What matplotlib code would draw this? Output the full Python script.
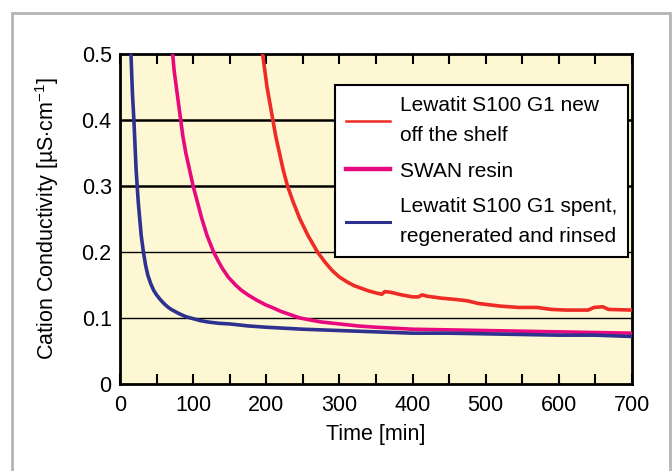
import numpy as np
import matplotlib
matplotlib.use('Agg')
import matplotlib.pyplot as plt
from matplotlib.patches import Rectangle

fs = 15.5
plt.rcParams['font.family'] = ['Liberation Sans', 'DejaVu Sans']
plt.rcParams['mathtext.fontset'] = 'custom'
plt.rcParams['mathtext.rm'] = 'Liberation Sans'
plt.rcParams['mathtext.it'] = 'Liberation Sans'

# data
t_new = [195, 198, 201, 205, 209, 213, 218, 223, 229, 237, 246, 257, 270, 280, 290, 300, 310, 320,
         330, 340, 350, 358, 362, 370, 385, 400, 408, 413, 420, 440, 460, 475, 490, 505, 520,
         545, 570, 590, 610, 640, 648, 660, 668, 700]
c_new = [0.5, 0.475, 0.45, 0.425, 0.4, 0.375, 0.35, 0.325, 0.3, 0.275, 0.25, 0.225, 0.2, 0.185, 0.172, 0.162, 0.155, 0.149,
         0.145, 0.141, 0.138, 0.136, 0.14, 0.139, 0.135, 0.132, 0.132, 0.135, 0.133, 0.13, 0.128, 0.126, 0.122, 0.12, 0.118,
         0.116, 0.116, 0.113, 0.112, 0.112, 0.116, 0.117, 0.113, 0.112]

t_swan = [72, 74, 77, 80, 83, 86, 90, 95, 100, 106, 112, 119, 128, 134, 140, 148, 158, 166, 175,
          187, 199, 210, 220, 233, 246, 260, 275, 300, 325, 350, 400, 450, 500, 550, 600, 650, 700]
c_swan = [0.5, 0.475, 0.45, 0.425, 0.4, 0.375, 0.35, 0.325, 0.3, 0.275, 0.25, 0.225, 0.2, 0.187, 0.175, 0.162, 0.15, 0.142, 0.135,
          0.127, 0.12, 0.115, 0.11, 0.105, 0.1, 0.097, 0.094, 0.091, 0.088, 0.086, 0.083, 0.082, 0.081, 0.08, 0.079, 0.078, 0.077]

t_spent = [15, 16, 17, 18, 19, 20, 21, 22, 23.5, 25, 27, 29, 32, 35, 38, 42, 46, 50, 55, 60, 65, 70,
           80, 90, 100, 110, 120, 135, 150, 175, 200, 250, 300, 350, 400, 450, 500, 550, 600, 650, 700]
c_spent = [0.5, 0.47, 0.44, 0.42, 0.4, 0.375, 0.35, 0.325, 0.3, 0.275, 0.25, 0.225, 0.2, 0.18, 0.165, 0.152, 0.142, 0.135, 0.128, 0.122, 0.117, 0.113,
           0.107, 0.102, 0.099, 0.096, 0.094, 0.092, 0.091, 0.088, 0.086, 0.083, 0.081, 0.079, 0.077, 0.077, 0.076, 0.075, 0.074, 0.074, 0.072]

labels = ['Lewatit S100 G1 new\noff the shelf', 'SWAN resin',
          'Lewatit S100 G1 spent,\nregenerated and rinsed']
colors = ['#ee2b24', '#e8097f', '#2e3190']

fig = plt.figure(figsize=(6.72, 4.71), dpi=100)
fig.patch.set_facecolor('white')

# grey frame round the chart
fig.patches.append(Rectangle((12/672, -0.05), 658/672, 1 - 13/471 + 0.05, transform=fig.transFigure,
                             fill=False, edgecolor='#b5b5b5', linewidth=2))

ax = fig.add_axes([120/672, 1 - 384/471, 512/672, 330/471])
ax.set_facecolor('#fdf8d3')

for y, lw in zip([0.1, 0.2, 0.3, 0.4], [1.0, 1.0, 1.8, 1.8]):
    ax.axhline(y, color='black', lw=lw, zorder=1)

ax.plot(t_new, c_new, color=colors[0], lw=2.6, label=labels[0], zorder=3)
ax.plot(t_swan, c_swan, color=colors[1], lw=2.6, label=labels[1], zorder=3)
ax.plot(t_spent, c_spent, color=colors[2], lw=2.6, label=labels[2], zorder=3)

ax.set_xlim(0, 700)
ax.set_ylim(0, 0.5)
ax.set_xticks(np.arange(0, 701, 100))
ax.set_xticks(np.arange(50, 700, 50), minor=True)
ax.set_yticks([0, 0.1, 0.2, 0.3, 0.4, 0.5])
ax.set_yticklabels(['0', '0.1', '0.2', '0.3', '0.4', '0.5'])
ax.tick_params(axis='x', which='both', direction='in', top=True, length=7, width=1.5,
               labelsize=fs, pad=8)
ax.tick_params(axis='y', length=0, labelsize=fs, pad=6)
for s in ax.spines.values():
    s.set_linewidth(2)

ax.set_xlabel('Time [min]', fontsize=fs, labelpad=6)
ax.set_ylabel(r'Cation Conductivity [µS$\cdot$cm$^{-1}$]', fontsize=fs, labelpad=15)

leg = ax.legend(loc='upper left', bbox_to_anchor=(0.42, 0.906), fontsize=15,
                frameon=True, fancybox=False, framealpha=1, edgecolor='black',
                handlelength=2.1, handletextpad=0.45, labelspacing=0.8,
                borderpad=0.55, borderaxespad=0)
leg.get_frame().set_linewidth(1.5)
leg.get_lines()[0].set_linewidth(1.8)
leg.get_lines()[1].set_linewidth(3.2)
leg.get_lines()[2].set_linewidth(2.2)
for txt in leg.get_texts():
    txt.set_linespacing(1.7)

fig.savefig('out.png', dpi=100)
